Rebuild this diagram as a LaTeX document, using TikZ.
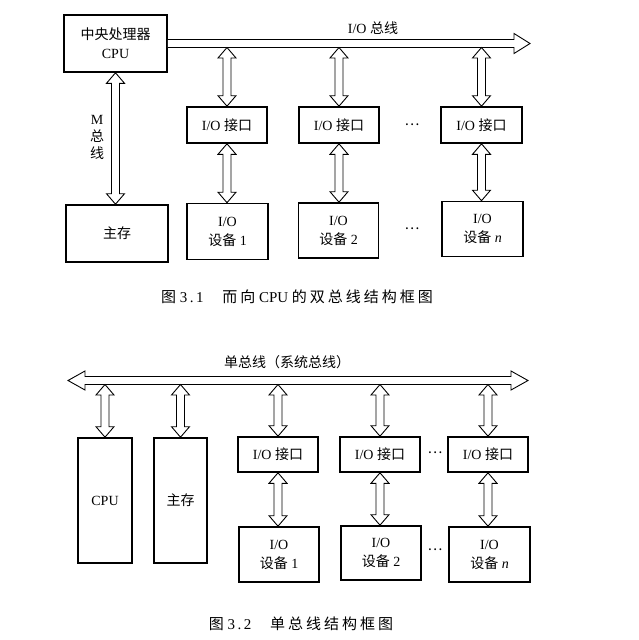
\documentclass[tikz,border=0pt]{standalone}
\usepackage{fontspec}
\setmainfont{Liberation Serif}
\newfontfamily\cjk{Noto Sans CJK SC}
\newfontfamily\cjkcap[LetterSpace=20]{Noto Sans CJK SC}
\usetikzlibrary{calc}
\tikzset{
  box/.style={draw, line width=1.6pt, inner sep=0pt, align=center, font=\fontsize{14}{19}\selectfont},
  hollow/.style={draw, line width=0.9pt, fill=white, line join=miter},
  lbl/.style={inner sep=0pt, font=\fontsize{14}{17}\selectfont},
  captext/.style={inner sep=0pt, font=\fontsize{15}{17}\selectfont}
}
% hollow double-headed vertical bus arrow, #1 above #2
\newcommand{\vbus}[2]{\draw[hollow] let \p1=(#1), \p2=(#2) in
  (\x1,\y1) -- (\x1+9pt,\y1-10.5pt) -- (\x1+4pt,\y1-10.5pt) -- (\x1+4pt,\y2+10.5pt)
  -- (\x1+9pt,\y2+10.5pt) -- (\x1,\y2) -- (\x1-9pt,\y2+10.5pt) -- (\x1-4pt,\y2+10.5pt)
  -- (\x1-4pt,\y1-10.5pt) -- (\x1-9pt,\y1-10.5pt) -- cycle;}
% hollow bus arrow with one head on the right
\newcommand{\rbus}[2]{\draw[hollow] let \p1=(#1), \p2=(#2) in
  (\x1,\y1+4pt) -- (\x2-16pt,\y1+4pt) -- (\x2-16pt,\y1+10pt) -- (\x2,\y1)
  -- (\x2-16pt,\y1-10pt) -- (\x2-16pt,\y1-4pt) -- (\x1,\y1-4pt);}
% hollow bus arrow with heads on both ends
\newcommand{\hbus}[2]{\draw[hollow] let \p1=(#1), \p2=(#2) in
  (\x1,\y1) -- (\x1+17pt,\y1+9.5pt) -- (\x1+17pt,\y1+4pt) -- (\x2-17pt,\y1+4pt)
  -- (\x2-17pt,\y1+9.5pt) -- (\x2,\y1) -- (\x2-17pt,\y1-9.5pt) -- (\x2-17pt,\y1-4pt)
  -- (\x1+17pt,\y1-4pt) -- (\x1+17pt,\y1-9.5pt) -- cycle;}

\begin{document}
\begin{tikzpicture}[x=1pt,y=-1pt]
    \useasboundingbox (0,0) rectangle (638,640);
    % Fig 3.1: boxes
    \node[box, minimum width=103, minimum height=57] (cpu) at (115.5,43.5) {{\cjk 中央处理器}\\CPU};
    \node[box, minimum width=102, minimum height=57] (mem) at (117,233.5) {\cjk 主存};
    \node[box, minimum width=80, minimum height=36] (if1) at (227,125) {I/O {\cjk 接口}};
    \node[box, minimum width=80, minimum height=36] (if2) at (339,125) {I/O {\cjk 接口}};
    \node[box, minimum width=81, minimum height=36] (ifn) at (481.5,125) {I/O {\cjk 接口}};
    \node[box, minimum width=81, minimum height=56] (dev1) at (227.5,231.5) {I/O\\{\cjk 设备} 1};
    \node[box, minimum width=80, minimum height=55] (dev2) at (338.5,230.5) {I/O\\{\cjk 设备} 2};
    \node[box, minimum width=81, minimum height=55] (devn) at (482.5,229) {I/O\\{\cjk 设备} \textit{n}};
    \node[lbl] (dotsa) at (412,125) {\cjk …};
    \node[lbl] (dotsb) at (412,229) {\cjk …};
    % I/O bus
    \coordinate (busend) at (530,43.5);
    \coordinate (buslow) at ($(cpu.east)+(0,4)$);
    \rbus{cpu.east}{busend}
    \node[lbl] (iobus) at (373,28) {I/O {\cjk 总线}};
    \vbus{if1.north |- buslow}{if1.north}
    \vbus{if2.north |- buslow}{if2.north}
    \vbus{ifn.north |- buslow}{ifn.north}
    % M bus and device links
    \vbus{cpu.south}{mem.north}
    \node[lbl, align=center] (mbus) at (97,137) {M\\{\cjk 总}\\{\cjk 线}};
    \vbus{if1.south}{dev1.north}
    \vbus{if2.south}{dev2.north}
    \vbus{ifn.south}{devn.north}
    \node[captext] (capa) at (297,297) {{\cjkcap 图}\ 3\,.\,1\quad\ {\cjkcap 而向} CPU {\cjkcap 的双总线结构框图}};

    % Fig 3.2: single bus
    \coordinate (busl) at (68,380.5);
    \coordinate (busr) at (528,380.5);
    \coordinate (buslowb) at ($(busl)+(0,4)$);
    \hbus{busl}{busr}
    \node[lbl] (sysbus) at (287,362) {\cjk 单总线（系统总线）};
    % boxes
    \node[box, minimum width=54, minimum height=125] (cpub) at (105,500.5) {CPU};
    \node[box, minimum width=53, minimum height=125] (memb) at (180.5,500.5) {\cjk 主存};
    \node[box, minimum width=80, minimum height=35] (ifb1) at (278,454.5) {I/O {\cjk 接口}};
    \node[box, minimum width=80, minimum height=35] (ifb2) at (380,454.5) {I/O {\cjk 接口}};
    \node[box, minimum width=80, minimum height=35] (ifbn) at (488,454.5) {I/O {\cjk 接口}};
    \node[box, minimum width=80, minimum height=55] (devb1) at (279,554.5) {I/O\\{\cjk 设备} 1};
    \node[box, minimum width=80, minimum height=54] (devb2) at (381,553) {I/O\\{\cjk 设备} 2};
    \node[box, minimum width=81, minimum height=55] (devbn) at (489.5,554.5) {I/O\\{\cjk 设备} \textit{n}};
    \node[lbl] (dotsc) at (435,453) {\cjk …};
    \node[lbl] (dotsd) at (435,550) {\cjk …};
    % links
    \vbus{cpub.north |- buslowb}{cpub.north}
    \vbus{memb.north |- buslowb}{memb.north}
    \vbus{ifb1.north |- buslowb}{ifb1.north}
    \vbus{ifb2.north |- buslowb}{ifb2.north}
    \vbus{ifbn.north |- buslowb}{ifbn.north}
    \vbus{ifb1.south}{devb1.north}
    \vbus{ifb2.south}{devb2.north}
    \vbus{ifbn.south}{devbn.north}
    \node[captext] (capb) at (301,624) {{\cjkcap 图}\ 3\,.\,2\quad\ {\cjkcap 单总线结构框图}};
\end{tikzpicture}
\end{document}
